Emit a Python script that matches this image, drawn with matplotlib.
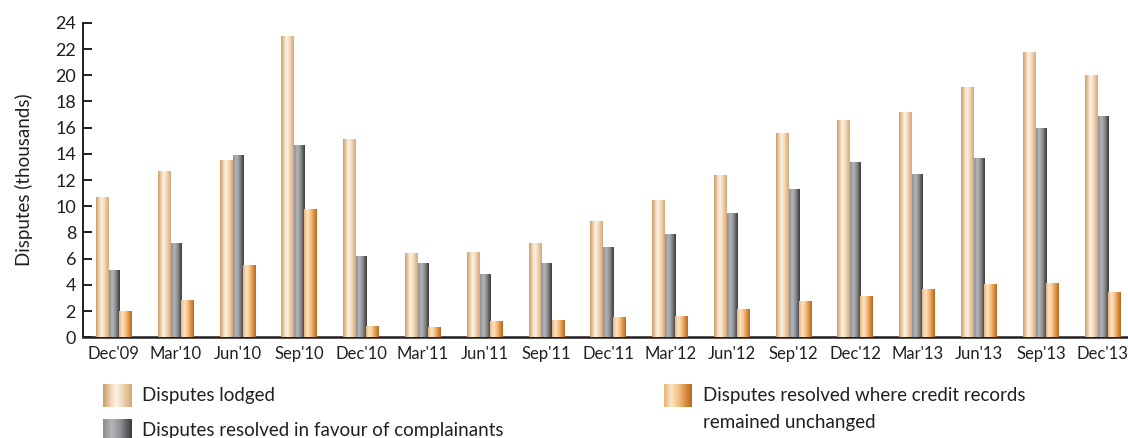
import numpy as np
import matplotlib.pyplot as plt
from matplotlib.colors import LinearSegmentedColormap

plt.rcParams['font.family'] = ['Lato', 'DejaVu Sans']

# data (thousands)
quarters = ["Dec'09", "Mar'10", "Jun'10", "Sep'10", "Dec'10", "Mar'11", "Jun'11", "Sep'11",
            "Dec'11", "Mar'12", "Jun'12", "Sep'12", "Dec'12", "Mar'13", "Jun'13", "Sep'13", "Dec'13"]
lodged = [10.7, 12.7, 13.5, 23.0, 15.1, 6.4, 6.5, 7.2, 8.9, 10.5, 12.4, 15.6, 16.6, 17.2, 19.1, 21.8, 20.0]
favour = [5.1, 7.2, 13.9, 14.7, 6.2, 5.7, 4.8, 5.7, 6.9, 7.9, 9.5, 11.3, 13.4, 12.5, 13.7, 16.0, 16.9]
unchanged = [2.0, 2.85, 5.5, 9.8, 0.86, 0.8, 1.25, 1.3, 1.55, 1.63, 2.15, 2.75, 3.15, 3.7, 4.05, 4.15, 3.45]

labels = ["Disputes lodged", "Disputes resolved in favour of complainants",
          "Disputes resolved where credit records\nremained unchanged"]

cm_lodged = LinearSegmentedColormap.from_list('lodged', [(0, '#cc9c68'), (0.3, '#f5dcc0'), (0.45, '#fdf2e5'),
                                                          (0.7, '#f0d4b4'), (1, '#d5a774')])
cm_favour = LinearSegmentedColormap.from_list('favour', [(0, '#8c8e92'), (0.3, '#b4b6ba'), (0.6, '#8e9094'),
                                                          (1, '#3a3a3c')])
cm_unch = LinearSegmentedColormap.from_list('unch', [(0, '#e8b27a'), (0.25, '#fde6c8'), (0.5, '#f6c48c'),
                                                      (0.8, '#d88c3c'), (1, '#b8681c')])
grad = np.linspace(0, 1, 64).reshape(1, -1)


def gradient_bars(ax, bars, cmap):
    for b in bars:
        x0, y0 = b.get_x(), b.get_y()
        w, h = b.get_width(), b.get_height()
        im = ax.imshow(grad, extent=[x0, x0 + w, y0, y0 + h], aspect='auto', cmap=cmap,
                       interpolation='bicubic', zorder=3)
        im.set_clip_path(b)
        b.set_alpha(0)


fig = plt.figure(figsize=(11.28, 4.38), dpi=100)
ax = fig.add_axes([0.0736, 0.2299, 0.9264, 0.718])

x = np.arange(len(quarters))
b1 = ax.bar(x - 0.186, lodged, 0.21, color='#e8c8a0', zorder=2)
b2 = ax.bar(x, favour, 0.162, color='#8e9094', zorder=2)
b3 = ax.bar(x + 0.186, unchanged, 0.21, color='#e09a50', zorder=2)
for bars, cm in [(b1, cm_lodged), (b2, cm_favour), (b3, cm_unch)]:
    gradient_bars(ax, bars, cm)

ax.set_xlim(-0.5, 16.41)
ax.set_ylim(0, 24)
ax.set_yticks(range(0, 25, 2))
ax.set_xticks(x)
ax.set_xticklabels(quarters)
ax.spines['top'].set_visible(False)
ax.spines['right'].set_visible(False)
ax.spines['left'].set_linewidth(1.4)
ax.spines['bottom'].set_linewidth(1.8)
ax.spines['left'].set_color('#231f20')
ax.spines['bottom'].set_color('#231f20')
ax.tick_params(axis='y', direction='in', length=6.5, width=1.4, color='#231f20',
               labelsize=13, labelcolor='#231f20', pad=5)
ax.tick_params(axis='x', length=0, labelsize=12, labelcolor='#231f20', pad=6)
ax.set_ylabel("Disputes (thousands)", fontsize=13.5, color='#231f20', labelpad=16)

# legend built from gradient swatches
W, H = 1128, 438
legend_pos = [(103, 384, cm_lodged), (103, 419, cm_favour), (664, 384, cm_unch)]
for (px, py, cm), lab in zip(legend_pos, labels):
    sw = fig.add_axes([px / W, 1 - (py + 23) / H, 28 / W, 23 / H])
    sw.imshow(grad, aspect='auto', cmap=cm, interpolation='bicubic')
    sw.axis('off')
    fig.text((px + 39) / W, 1 - (py + 3) / H, lab, fontsize=13.5, color='#231f20',
             va='top', ha='left', linespacing=1.7)

fig.savefig('out.png', dpi=100)
